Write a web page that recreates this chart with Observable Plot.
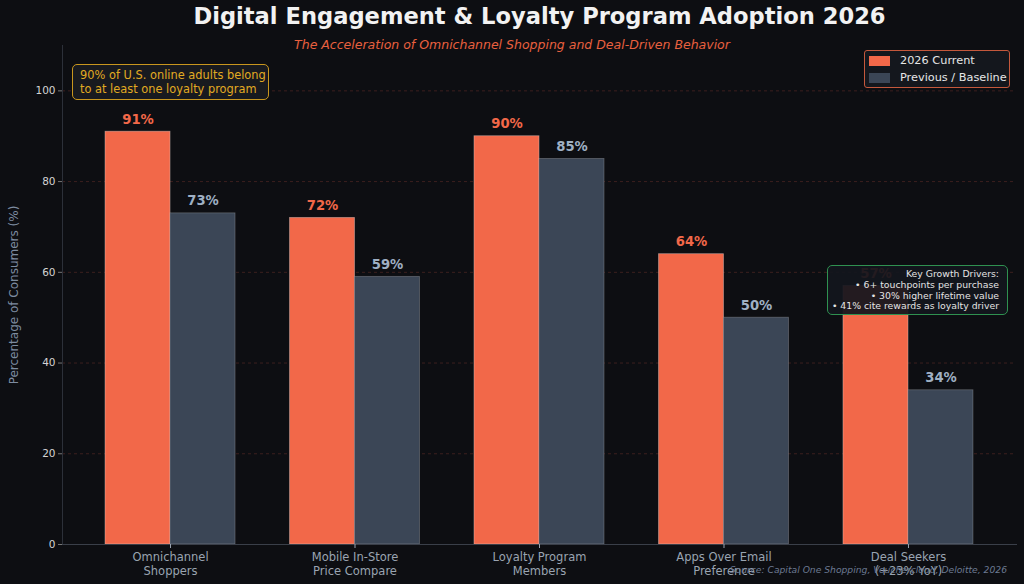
<!DOCTYPE html>
<html><head><meta charset="utf-8">
<script src="https://cdn.jsdelivr.net/npm/d3@7"></script>
<script src="https://cdn.jsdelivr.net/npm/@observablehq/plot@0.6"></script>
<style>
html,body{margin:0;padding:0;background:#0d0e12;}
#wrap{position:relative;width:1024px;height:584px;font-family:"DejaVu Sans",sans-serif;overflow:hidden;}
#chart{position:absolute;left:0;top:0;}
#title{position:absolute;left:0;width:1079px;top:3px;text-align:center;color:#f2f2f2;font-size:22.6px;font-weight:bold;}
#subtitle{position:absolute;left:0;width:1024px;top:37px;text-align:center;color:#e8603f;font-size:12.5px;font-style:italic;}
#legend{position:absolute;left:864px;top:50px;width:144px;height:36px;border:1px solid #c4583c;border-radius:3px;background:#14171d;color:#e6e6e6;font-size:11.3px;}
#legend .row{position:absolute;left:4px;display:flex;align-items:center;}
#legend .sw{width:21px;height:10px;margin-right:10px;}
#note{position:absolute;left:72px;top:64px;width:197px;height:36px;box-sizing:border-box;padding:3px 0 0 7px;border:1px solid #c8961e;border-radius:5px;background:#181a1f;color:#e2aa22;font-size:11.4px;line-height:14px;}
#drivers{position:absolute;left:827px;top:265px;width:181px;height:50px;box-sizing:border-box;padding:3px 8px 0 0;border:1.5px solid #2f9150;border-radius:5px;background:rgba(19,22,29,0.93);color:#e4e4e4;font-size:9.3px;line-height:10.8px;text-align:right;}
#source{position:absolute;right:17px;top:564px;color:#6c7a92;font-size:9.2px;font-style:italic;}
</style></head><body>
<div id="wrap">
  <div id="chart"></div>
  <div id="title"></div>
  <div id="subtitle"></div>
  <div id="legend"></div>
  <div id="note"></div>
  <div id="drivers"></div>
  <div id="source"></div>
</div>
<script>
const categories = ["Omnichannel\nShoppers", "Mobile In-Store\nPrice Compare", "Loyalty Program\nMembers", "Apps Over Email\nPreference", "Deal Seekers\n(+23% YoY)"];
const current = [91, 72, 90, 64, 57];
const previous = [73, 59, 85, 50, 34];
const yTicks = [0, 20, 40, 60, 80, 100];
const gridTicks = [20, 40, 60, 80, 100];
const seriesNames = ["2026 Current", "Previous / Baseline"];
const seriesColors = ["#f26849", "#3b4656"];
const titleText = "Digital Engagement & Loyalty Program Adoption 2026";
const subtitleText = "The Acceleration of Omnichannel Shopping and Deal-Driven Behavior";
const noteLines = ["90% of U.S. online adults belong", "to at least one loyalty program"];
const driverLines = ["Key Growth Drivers:", "• 6+ touchpoints per purchase", "• 30% higher lifetime value", "• 41% cite rewards as loyalty driver"];
const sourceText = "Source: Capital One Shopping, Vouchercloud, Deloitte, 2026";

const rows = categories.map((c, i) => ({category: c, current: current[i], previous: previous[i]}));
const half = 65;

const chart = Plot.plot({
  width: 1024,
  height: 584,
  marginTop: 45,
  marginBottom: 40,
  marginLeft: 62,
  marginRight: 8,
  style: {background: "transparent", fontFamily: "DejaVu Sans, sans-serif", overflow: "visible"},
  x: {type: "band", domain: categories, paddingInner: 0.295, paddingOuter: 0.233, round: false},
  y: {domain: [0, 110]},
  marks: [
    Plot.ruleY(gridTicks, {stroke: "#5c2c26", strokeOpacity: 0.75, strokeDasharray: "3,3", strokeWidth: 0.8}),
    Plot.barY(rows, {x: "category", y: "current", fill: seriesColors[0], stroke: "#d8d8d8", strokeOpacity: 0.45, strokeWidth: 0.8, insetRight: half}),
    Plot.barY(rows, {x: "category", y: "previous", fill: seriesColors[1], stroke: "#d8d8d8", strokeOpacity: 0.3, strokeWidth: 0.8, insetLeft: half}),
    Plot.text(rows, {x: "category", y: "current", text: d => d.current + "%", dx: -half / 2, dy: -8, lineAnchor: "bottom", fill: seriesColors[0], fontWeight: "bold", fontSize: 13.2}),
    Plot.text(rows, {x: "category", y: "previous", text: d => d.previous + "%", dx: half / 2, dy: -8, lineAnchor: "bottom", fill: "#9fb0c4", fontWeight: "bold", fontSize: 13.2}),
    Plot.frame({anchor: "left", stroke: "#2c3039"}),
    Plot.frame({anchor: "bottom", stroke: "#3a3f49"}),
    Plot.axisY({ticks: yTicks, tickSize: 4, tickPadding: 3, fontSize: 10.5, color: "#d4d4d4", stroke: "#777", label: null}),
    Plot.axisY({ticks: [], label: "Percentage of Consumers (%)", labelAnchor: "center", labelOffset: 53, labelArrow: "none", fontSize: 12, color: "#7d8ba0"}),
    Plot.axisX({tickSize: 4, tickPadding: 3, fontSize: 11.5, color: "#9aa4b1", lineHeight: 1.2, label: null})
  ]
});
document.getElementById("chart").appendChild(chart);

document.getElementById("title").textContent = titleText;
document.getElementById("subtitle").textContent = subtitleText;
const leg = document.getElementById("legend");
seriesNames.forEach((n, i) => {
  const r = document.createElement("div");
  r.className = "row";
  r.style.top = (3 + i * 17) + "px";
  r.innerHTML = `<span class="sw" style="background:${seriesColors[i]}"></span><span>${n}</span>`;
  leg.appendChild(r);
});
document.getElementById("note").innerHTML = noteLines.join("<br>");
document.getElementById("drivers").innerHTML = driverLines.join("<br>");
document.getElementById("source").textContent = sourceText;
</script>
</body></html>
